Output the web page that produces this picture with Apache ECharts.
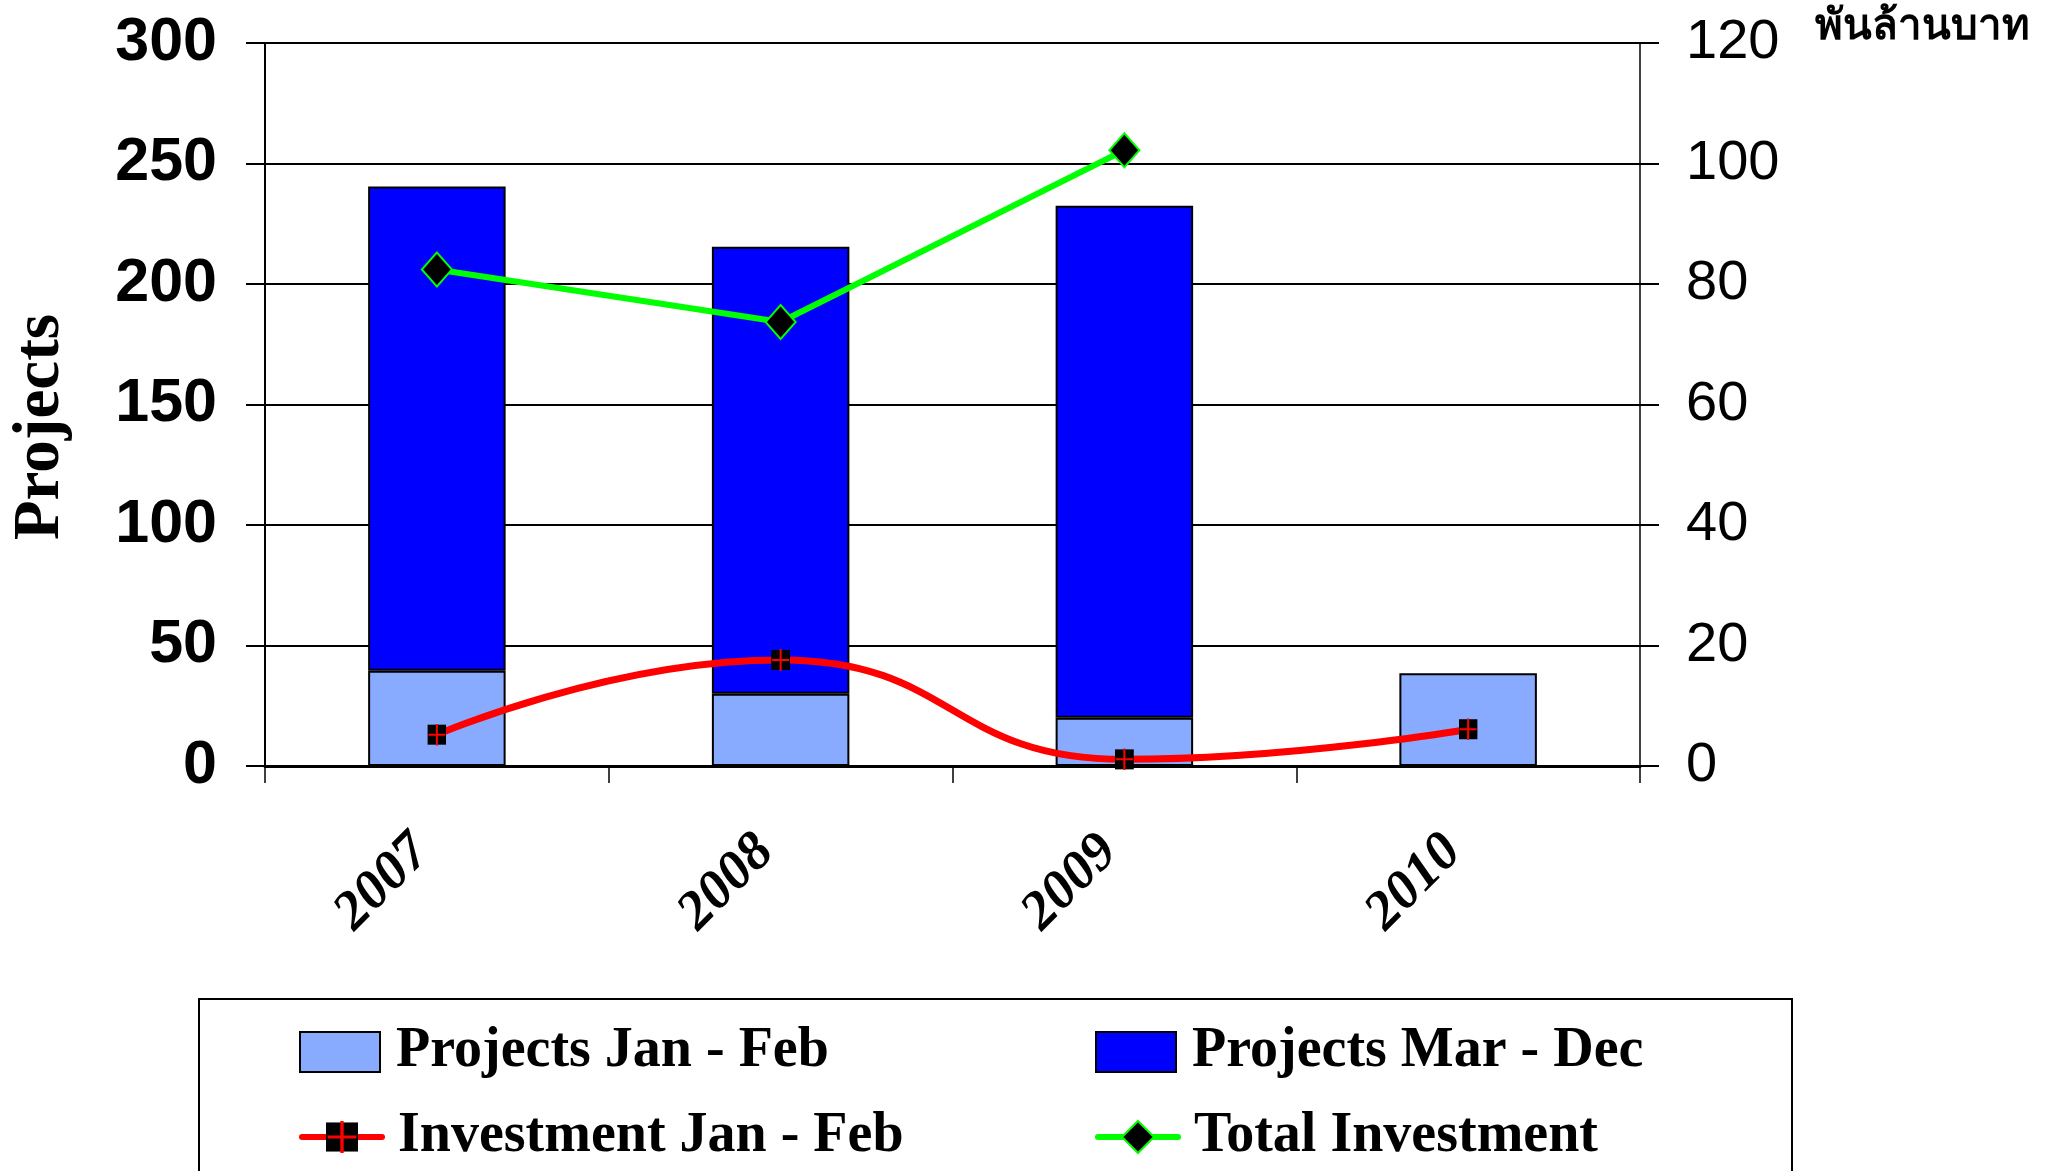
<!DOCTYPE html>
<html>
<head>
<meta charset="utf-8">
<script src="https://cdn.jsdelivr.net/npm/echarts@6/dist/echarts.min.js"></script>
<style>
html,body{margin:0;padding:0;background:#fff;}
#chart{width:2054px;height:1171px;}
</style>
</head>
<body>
<div id="chart"></div>
<script>
// ---- data ----
const categories = ['2007', '2008', '2009', '2010'];
const projectsJanFeb = [39.5, 30, 20, 38.5];
const projectsMarDec = [201, 185.5, 212.5, null];
const investmentJanFeb = [5.2, 17.6, 1.1, 6.1];
const totalInvestment = [82.4, 73.7, 102.2, null];
const seriesNames = ['Projects Jan - Feb', 'Projects Mar - Dec', 'Investment Jan - Feb', 'Total Investment'];
const leftAxis = { min: 0, max: 300, interval: 50, name: 'Projects' };
const rightAxis = { min: 0, max: 120, interval: 20, unit: 'พันล้านบาท' };

const markerSvg = "<svg xmlns='http://www.w3.org/2000/svg' width='19' height='22' viewBox='0 0 19 22'>" +
  "<rect x='0' y='1' width='19' height='20' fill='black'/>" +
  "<path d='M9.5 0V22M1 11H18' stroke='red' stroke-width='2' fill='none'/></svg>";
const markerSymbol = 'image://data:image/svg+xml;charset=utf-8,' + encodeURIComponent(markerSvg);

const chart = echarts.init(document.getElementById('chart'), null, { renderer: 'canvas' });

const legendText = {
  fontFamily: 'Liberation Serif', fontWeight: 'bold', fontSize: 56, color: '#000',
  padding: [0, 0, 0, 11]
};
function legendAt(name, left, top, isBar, lineColor) {
  const l = {
    data: [name], left: left, top: top, orient: 'horizontal', padding: 0,
    itemWidth: 80, itemHeight: 40, textStyle: legendText, selectedMode: false
  };
  if (isBar) {
    l.icon = 'rect';
  } else {
    l.lineStyle = { width: 6, color: lineColor, cap: 'round' };
  }
  return l;
}

const option = {
  backgroundColor: '#ffffff',
  animation: false,
  title: {
    text: rightAxis.unit, left: 1810, top: 1,
    textStyle: { fontFamily: 'Liberation Sans, sans-serif', fontWeight: 'bold', fontSize: 42, color: '#000' }
  },
  grid: { left: 265, right: 414, top: 43, bottom: 405, containLabel: false },
  legend: [
    legendAt(seriesNames[0], 299, 1024, true),
    legendAt(seriesNames[1], 1095, 1024, true),
    legendAt(seriesNames[2], 299, 1109, false, '#FF0000'),
    legendAt(seriesNames[3], 1095, 1109, false, '#00FF00')
  ],
  graphic: [{
    type: 'rect', left: 198, top: 998, z: -1,
    shape: { x: 0, y: 0, width: 1593, height: 200 },
    style: { fill: '#fff', stroke: '#000', lineWidth: 2 }
  }, {
    type: 'text', x: 41, y: 427, rotation: Math.PI / 2,
    style: {
      text: leftAxis.name, fill: '#000', align: 'center', verticalAlign: 'middle',
      font: 'bold 65px "Liberation Serif"'
    }
  }],
  xAxis: {
    type: 'category', data: categories, boundaryGap: true,
    axisLine: { show: true, lineStyle: { color: '#000', width: 3 } },
    axisTick: { show: true, length: 17, lineStyle: { color: '#000', width: 1.5 } },
    axisLabel: {
      rotate: 45, margin: 63, padding: [0, 21, 0, 0],
      fontFamily: 'Liberation Serif', fontWeight: 'bold', fontStyle: 'italic', fontSize: 55, color: '#000'
    },
    splitLine: { show: false }
  },
  yAxis: [{
    type: 'value', min: leftAxis.min, max: leftAxis.max, interval: leftAxis.interval,
    axisLine: { show: true, lineStyle: { color: '#000', width: 2 } },
    axisTick: { show: true, length: 19, lineStyle: { color: '#000', width: 2 } },
    axisLabel: { margin: 48, fontFamily: 'Liberation Sans', fontWeight: 'bold', fontSize: 61, color: '#000' },
    splitLine: { show: true, lineStyle: { color: '#000', width: 2 } }
  }, {
    type: 'value', position: 'right', min: rightAxis.min, max: rightAxis.max, interval: rightAxis.interval,
    axisLine: { show: true, lineStyle: { color: '#000', width: 1.5 } },
    axisTick: { show: true, length: 19, lineStyle: { color: '#000', width: 2 } },
    axisLabel: { margin: 46, fontFamily: 'Liberation Sans', fontSize: 56, color: '#000' },
    splitLine: { show: false }
  }],
  series: [{
    name: seriesNames[0], type: 'bar', stack: 'projects', yAxisIndex: 0, barWidth: '40%',
    data: projectsJanFeb,
    itemStyle: { color: '#88AAFF', borderColor: '#000', borderWidth: 2 }
  }, {
    name: seriesNames[1], type: 'bar', stack: 'projects', yAxisIndex: 0, barWidth: '40%',
    data: projectsMarDec,
    itemStyle: { color: '#0000FF', borderColor: '#000', borderWidth: 2 }
  }, {
    name: seriesNames[2], type: 'line', yAxisIndex: 1, smooth: 0.5,
    data: investmentJanFeb,
    symbol: markerSymbol, symbolSize: [19, 22], showSymbol: true,
    lineStyle: { color: '#FF0000', width: 7 },
    itemStyle: { color: '#FF0000' }, z: 5
  }, {
    name: seriesNames[3], type: 'line', yAxisIndex: 1, smooth: false,
    data: totalInvestment,
    symbol: 'diamond', symbolSize: [30, 34], showSymbol: true,
    lineStyle: { color: '#00FF00', width: 6 },
    itemStyle: { color: '#000', borderColor: '#00FF00', borderWidth: 2 }, z: 6
  }]
};
chart.setOption(option);
</script>
</body>
</html>
